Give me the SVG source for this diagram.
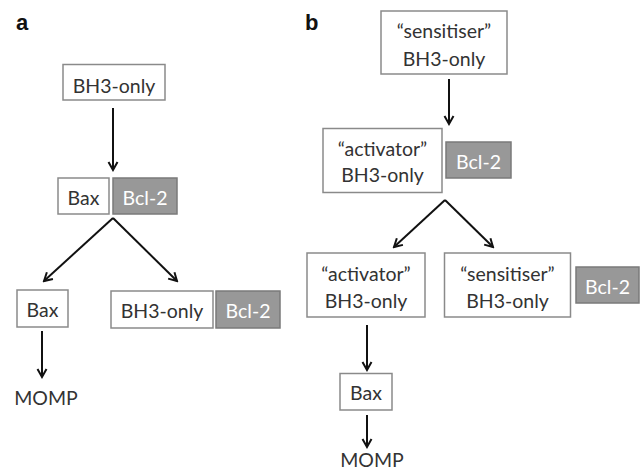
<svg xmlns="http://www.w3.org/2000/svg" width="644" height="472" viewBox="0 0 644 472">
<style>
.box{fill:#fff;stroke:#8a8a8a;stroke-width:1.5}
.bcl{fill:#989898;stroke:#7a7a7a;stroke-width:1.5}
.t{font-family:Lato,"Open Sans",sans-serif;font-size:19.5px;fill:#333;text-anchor:middle}
.w{fill:#fff}
.lbl{font-family:"Liberation Sans",Arial,sans-serif;font-size:22px;font-weight:bold;fill:#111}
.c{stroke:#111;stroke-width:2;fill:none}
</style>
<defs>
<marker id="ah" viewBox="0 0 12 12" refX="10" refY="6" markerWidth="12" markerHeight="12" markerUnits="userSpaceOnUse" orient="auto">
<path d="M2,1.5 L10,6 L2,10.5" fill="none" stroke="#111" stroke-width="2"/>
</marker>
</defs>
<text class="lbl" x="16" y="30">a</text>
<text class="lbl" x="305" y="30">b</text>
<g id="connectors">
<line class="c" x1="113" y1="108" x2="113" y2="170" marker-end="url(#ah)"/>
<line class="c" x1="113" y1="218" x2="44" y2="281" marker-end="url(#ah)"/>
<line class="c" x1="113" y1="218" x2="177" y2="281" marker-end="url(#ah)"/>
<line class="c" x1="42" y1="331" x2="42" y2="377" marker-end="url(#ah)"/>
<line class="c" x1="449" y1="79" x2="449" y2="124" marker-end="url(#ah)"/>
<line class="c" x1="445" y1="200" x2="394" y2="247" marker-end="url(#ah)"/>
<line class="c" x1="445" y1="200" x2="493" y2="247" marker-end="url(#ah)"/>
<line class="c" x1="367" y1="325" x2="367" y2="370" marker-end="url(#ah)"/>
<line class="c" x1="367" y1="415" x2="367" y2="447" marker-end="url(#ah)"/>
</g>
<g id="a-bh3">
<rect class="box" x="63" y="64.5" width="102" height="35.5"/>
<text class="t" x="114" y="93">BH3-only</text>
</g>
<g id="a-bax">
<rect class="box" x="58" y="178" width="51" height="36"/>
<text class="t" x="83.5" y="205">Bax</text>
</g>
<g id="a-bcl2">
<rect class="bcl" x="113" y="178" width="64" height="36"/>
<text class="t w" x="145" y="205">Bcl-2</text>
</g>
<g id="a-bax2">
<rect class="box" x="17" y="290" width="51" height="37"/>
<text class="t" x="42.5" y="317">Bax</text>
</g>
<g id="a-bh3-2">
<rect class="box" x="111" y="291" width="102" height="37"/>
<text class="t" x="162" y="318">BH3-only</text>
</g>
<g id="a-bcl2-2">
<rect class="bcl" x="216" y="291" width="64" height="37"/>
<text class="t w" x="248" y="318">Bcl-2</text>
</g>
<g id="a-momp">
<text class="t" x="46" y="405">MOMP</text>
</g>
<g id="b-sens">
<rect class="box" x="381" y="11" width="126" height="63"/>
<text class="t" x="444" y="38">“sensitiser”</text>
<text class="t" x="444" y="66">BH3-only</text>
</g>
<g id="b-act">
<rect class="box" x="323" y="128.5" width="119" height="64"/>
<text class="t" x="382.5" y="156">“activator”</text>
<text class="t" x="382.5" y="182">BH3-only</text>
</g>
<g id="b-bcl2">
<rect class="bcl" x="446" y="142" width="65" height="36"/>
<text class="t w" x="478.5" y="169">Bcl-2</text>
</g>
<g id="b-act2">
<rect class="box" x="307" y="253" width="118" height="64"/>
<text class="t" x="366" y="281">“activator”</text>
<text class="t" x="366" y="308">BH3-only</text>
</g>
<g id="b-sens2">
<rect class="box" x="444.5" y="253" width="126" height="64"/>
<text class="t" x="507.5" y="281">“sensitiser”</text>
<text class="t" x="507.5" y="308">BH3-only</text>
</g>
<g id="b-bcl2-2">
<rect class="bcl" x="576" y="267" width="63" height="36"/>
<text class="t w" x="607.5" y="294">Bcl-2</text>
</g>
<g id="b-bax">
<rect class="box" x="340" y="373.5" width="52" height="36.5"/>
<text class="t" x="366" y="400">Bax</text>
</g>
<g id="b-momp">
<text class="t" x="372" y="467">MOMP</text>
</g>
</svg>
